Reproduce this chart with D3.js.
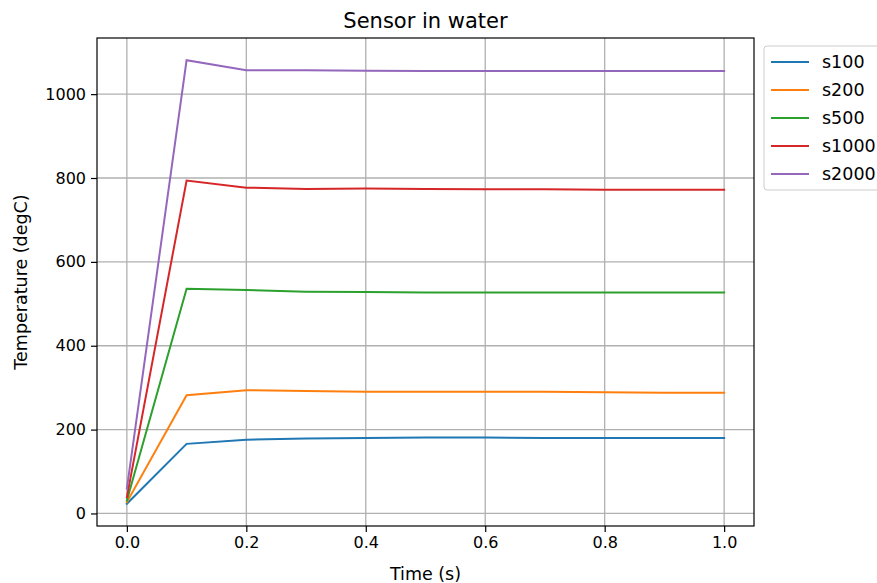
<!DOCTYPE html>
<html>
<head>
<meta charset="utf-8">
<script src="https://cdn.jsdelivr.net/npm/d3@7"></script>
<style>
  body { margin: 0; background: #fff; }
  svg { font-family: "DejaVu Sans", sans-serif; }
</style>
</head>
<body>
<svg width="877" height="583"></svg>
<script>
// data
var times = [0, 0.1, 0.2, 0.3, 0.4, 0.5, 0.6, 0.7, 0.8, 0.9, 1.0];
var seriesNames = ["s100", "s200", "s500", "s1000", "s2000"];
var s100  = [23, 166, 176, 179, 180, 181, 181, 180, 180, 180, 180];
var s200  = [27, 282, 294, 292, 290, 290, 290, 290, 289, 288, 288];
var s500  = [31, 536, 533, 529, 528, 527, 527, 527, 527, 527, 527];
var s1000 = [39, 794, 777, 774, 775, 774, 773, 773, 772, 772, 772];
var s2000 = [59, 1081, 1057, 1057, 1056, 1055, 1055, 1055, 1055, 1055, 1055];
var colors = ["#1f77b4", "#ff7f0e", "#2ca02c", "#d62728", "#9467bd"];
var xTicks = [0, 0.2, 0.4, 0.6, 0.8, 1.0];
var yTicks = [0, 200, 400, 600, 800, 1000];

var allSeries = [s100, s200, s500, s1000, s2000];

var svg = d3.select("svg"),
    pLeft = 97, pRight = 754, pTop = 38, pBottom = 526;

var xScale = d3.scaleLinear().domain([-0.05, 1.05]).range([pLeft, pRight]);
var yMin = d3.min(allSeries, function(s) { return d3.min(s); }),
    yMax = d3.max(allSeries, function(s) { return d3.max(s); }),
    pad = (yMax - yMin) * 0.05;
var yScale = d3.scaleLinear().domain([yMin - pad, yMax + pad]).range([pBottom, pTop]);

// grid
svg.append("g").selectAll("line").data(xTicks).enter().append("line")
  .attr("x1", function(d) { return xScale(d); }).attr("x2", function(d) { return xScale(d); })
  .attr("y1", pTop).attr("y2", pBottom)
  .attr("stroke", "#b0b0b0").attr("stroke-width", 1.3);
svg.append("g").selectAll("line").data(yTicks).enter().append("line")
  .attr("y1", function(d) { return yScale(d); }).attr("y2", function(d) { return yScale(d); })
  .attr("x1", pLeft).attr("x2", pRight)
  .attr("stroke", "#b0b0b0").attr("stroke-width", 1.3);

// lines
var line = d3.line()
  .x(function(d, i) { return xScale(times[i]); })
  .y(function(d) { return yScale(d); });

svg.append("g").selectAll("path").data(allSeries).enter().append("path")
  .attr("d", line)
  .attr("fill", "none")
  .attr("stroke", function(d, i) { return colors[i]; })
  .attr("stroke-width", 2)
  .attr("stroke-linejoin", "miter")
  .attr("stroke-linecap", "square");

// axes
var xAxis = svg.append("g")
  .attr("transform", "translate(0," + pBottom + ")")
  .call(d3.axisBottom(xScale).tickValues(xTicks).tickFormat(d3.format(".1f")).tickSize(6).tickPadding(5));
var yAxis = svg.append("g")
  .attr("transform", "translate(" + pLeft + ",0)")
  .call(d3.axisLeft(yScale).tickValues(yTicks).tickFormat(d3.format("d")).tickSize(6).tickPadding(5));

[xAxis, yAxis].forEach(function(a) {
  a.select(".domain").remove();
  a.selectAll("line").attr("stroke", "#000").attr("stroke-width", 1.2);
  a.selectAll("text").attr("font-size", "16px").attr("fill", "#000")
    .attr("font-family", "DejaVu Sans, sans-serif");
});

// frame
svg.append("rect")
  .attr("x", pLeft).attr("y", pTop)
  .attr("width", pRight - pLeft).attr("height", pBottom - pTop)
  .attr("fill", "none").attr("stroke", "#000").attr("stroke-width", 1.2);

// titles
svg.append("text")
  .attr("x", (pLeft + pRight) / 2).attr("y", 28)
  .attr("text-anchor", "middle")
  .attr("font-size", "21px")
  .text("Sensor in water");

svg.append("text")
  .attr("x", (pLeft + pRight) / 2).attr("y", 580)
  .attr("text-anchor", "middle")
  .attr("font-size", "17.5px")
  .text("Time (s)");

svg.append("text")
  .attr("transform", "translate(27," + (pTop + pBottom) / 2 + ") rotate(-90)")
  .attr("text-anchor", "middle")
  .attr("font-size", "17.5px")
  .text("Temperature (degC)");

// legend
var legend = svg.append("g").attr("transform", "translate(764,46)");
legend.append("rect")
  .attr("x", 0).attr("y", 0).attr("width", 125).attr("height", 144)
  .attr("rx", 3)
  .attr("fill", "#fff").attr("fill-opacity", 0.8)
  .attr("stroke", "#cccccc").attr("stroke-width", 1);
var items = legend.selectAll(".item").data(seriesNames).enter().append("g")
  .attr("transform", function(d, i) { return "translate(0," + (16 + i * 28) + ")"; });
items.append("line")
  .attr("x1", 7).attr("x2", 45)
  .attr("stroke", function(d, i) { return colors[i]; })
  .attr("stroke-width", 2);
items.append("text")
  .attr("x", 58).attr("y", 0).attr("dy", "0.35em")
  .attr("font-size", "17.5px")
  .text(function(d) { return d; });
</script>
</body>
</html>
